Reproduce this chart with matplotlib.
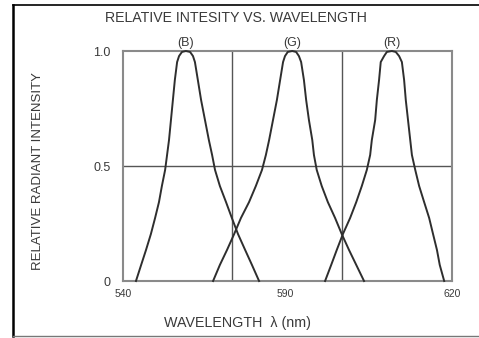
import numpy as np
import matplotlib
matplotlib.use("Agg")
import matplotlib.pyplot as plt
from matplotlib.lines import Line2D

plt.rcParams['font.family'] = ['Liberation Sans', 'DejaVu Sans']

# relative intensity levels, left side (rising) then right side (falling)
level_up = [0, 0.07, 0.135, 0.204, 0.274, 0.343, 0.413, 0.483, 0.548, 0.613,
            0.70, 0.787, 0.874, 0.952, 0.978, 0.996, 1.0]
level = level_up + level_up[-2::-1]

# wavelength (nm) of each curve at those levels
wl_b = [544.0, 545.6, 547.1, 548.6, 549.9, 551.1, 552.0, 553.0, 553.6, 554.2,
        554.8, 555.4, 556.0, 556.7, 557.3, 558.2, 559.4,
        560.7, 561.6, 562.2, 563.1, 564.1, 565.3, 566.5, 567.5, 568.4,
        569.9, 571.8, 573.6, 575.5, 577.7, 579.8, 582.0]
wl_g = [567.8, 569.9, 572.1, 574.3, 576.4, 578.9, 581.0, 582.9, 584.1, 585.1,
        586.3, 587.5, 588.5, 589.4, 590.0, 590.5, 591.3,
        592.0, 592.5, 592.9, 593.4, 593.8, 594.3, 594.9, 595.2, 595.7,
        596.6, 597.7, 599.0, 600.2, 601.5, 602.8, 604.2]
wl_r = [597.2, 598.3, 599.3, 600.4, 601.7, 602.8, 603.8, 604.7, 605.3, 605.6,
        606.2, 606.5, 606.9, 607.2, 607.8, 608.3, 609.2,
        609.9, 610.5, 611.0, 611.4, 611.7, 612.1, 612.5, 612.8, 613.4,
        614.1, 615.0, 615.9, 616.6, 617.3, 617.8, 618.6]

curve_names = ["(B)", "(G)", "(R)"]
peaks = [559.4, 591.3, 609.2]

x_ticks = [540, 590, 620]
x_tick_pos = [0, 0.4924, 1.0]   # the printed axis is not linear
grid_x = [573.6, 600.2]
y_ticks = [0, 0.5, 1.0]
y_tick_labels = ["0", "0.5", "1.0"]

def fwd(x):
    return np.interp(x, x_ticks, x_tick_pos)

def inv(p):
    return np.interp(p, x_tick_pos, x_ticks)

fig = plt.figure(figsize=(4.79, 3.38), dpi=100)
ax = fig.add_axes([0.2568, 0.1686, 0.6868, 0.6805])
ax.set_xscale('function', functions=(fwd, inv))
ax.set_xlim(540, 620)
ax.set_ylim(0, 1)

txt = '#3a3a3a'
for wl in (wl_b, wl_g, wl_r):
    ax.plot(wl, level, color='#2e2e2e', lw=1.4, clip_on=False, zorder=3)

for gx in grid_x:
    ax.axvline(gx, color='#555555', lw=1.0, zorder=2)
ax.axhline(0.5, color='#555555', lw=1.0, zorder=2)

for name, p in zip(curve_names, peaks):
    ax.text(p, 1.01, name, ha='center', va='bottom', fontsize=9, color=txt)

for s in ax.spines.values():
    s.set_color('#8a8a8a')
    s.set_linewidth(1.5)

ax.set_xticks(x_ticks)
ax.set_xticklabels([str(v) for v in x_ticks], fontsize=7.5, color=txt)
ax.set_yticks(y_ticks)
ax.set_yticklabels(y_tick_labels, fontsize=9, color=txt)
ax.tick_params(length=0, pad=9)
ax.tick_params(axis='x', pad=6)
ax.xaxis.set_minor_locator(matplotlib.ticker.NullLocator())

fig.text(236 / 479, 1 - 18 / 338, "RELATIVE INTESITY VS. WAVELENGTH",
         ha='center', va='center', fontsize=10.2, color=txt)
fig.text(237 / 479, 1 - 323 / 338, "WAVELENGTH  λ (nm)",
         ha='center', va='center', fontsize=10.3, color=txt)
fig.text(38 / 479, 1 - 171 / 338, "RELATIVE RADIANT INTENSITY", rotation=90,
         ha='center', va='center', fontsize=9.5, color=txt)

# outer frame of the picture
fig.add_artist(Line2D([0.0261, 0.0261], [0.0059, 0.986], color='black', lw=1.8))
fig.add_artist(Line2D([0.0261, 1.0], [0.986, 0.986], color='black', lw=1.2))
fig.add_artist(Line2D([0.0261, 1.0], [0.0059, 0.0059], color='#777777', lw=1.0))

fig.savefig("out.png", dpi=100)
